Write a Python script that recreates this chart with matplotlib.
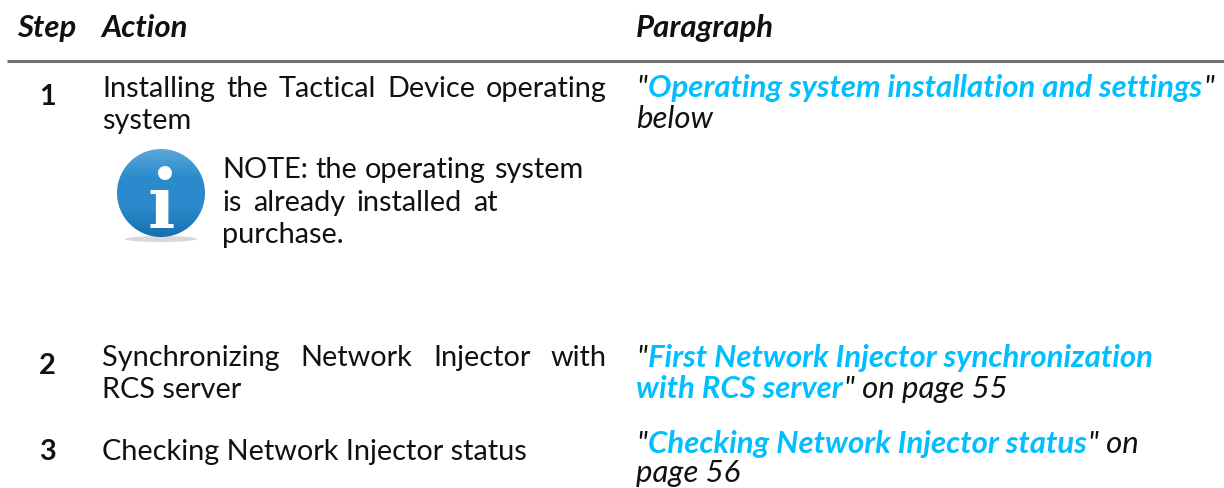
import numpy as np
import matplotlib
matplotlib.use('Agg')
import matplotlib.pyplot as plt
from matplotlib.colors import LinearSegmentedColormap
from matplotlib.patches import Circle, Ellipse

W = 1224
H = 488
FONT = 'Lato'
SIZE = 20.8
ISIZE = 22.4
BLUE = '#00bfff'
BLACK = '#111111'

headers = ['Step', 'Action', 'Paragraph']
steps = ['1', '2', '3']
action_lines = ['Installing the Tactical Device operating', 'system',
                'Synchronizing Network Injector with', 'RCS server',
                'Checking Network Injector status']
note_lines = ['NOTE: the operating system', 'is already installed at', 'purchase.']
para_1 = [[('"', BLACK), ('Operating system installation and settings', BLUE), ('"', BLACK)],
          [('below', BLACK)]]
para_2 = [[('"', BLACK), ('First Network Injector synchronization', BLUE)],
          [('with RCS server', BLUE), ('" on page 55', BLACK)]]
para_3 = [[('"', BLACK), ('Checking Network Injector status', BLUE), ('" on', BLACK)],
          [('page 56', BLACK)]]


def runs(ax, x, y, parts):
    # one line made of coloured pieces, each starts where the last one ended
    r = ax.figure.canvas.get_renderer()
    inv = ax.transData.inverted()
    for s, c in parts:
        t = ax.text(x, y, s, color=c, family=FONT, style='italic', fontsize=ISIZE,
                    weight='bold' if c == BLUE else 'normal', va='baseline')
        bb = t.get_window_extent(r)
        x = inv.transform((bb.x1, bb.y0))[0] + 1


def spread(ax, x0, x1, y, s):
    # justified line, words pushed out to the column edges
    r = ax.figure.canvas.get_renderer()
    words = s.split()
    ts = [ax.text(x0, y, w, color=BLACK, family=FONT, fontsize=SIZE, va='baseline') for w in words]
    ws = [t.get_window_extent(r).width for t in ts]
    gap = (x1 - x0 - sum(ws)) / (len(words) - 1)
    x = x0
    for t, w in zip(ts, ws):
        t.set_x(x)
        x += w + gap


fig = plt.figure(figsize=(W / 100, H / 100), dpi=100)
ax = fig.add_axes([0, 0, 1, 1])
ax.set_xlim(0, W)
ax.set_ylim(H, 0)
ax.axis('off')
fig.canvas.draw()

for s, x in zip(headers, [17, 101, 636]):
    ax.text(x, 37, s, color=BLACK, family=FONT, style='italic', weight='bold', fontsize=ISIZE, va='baseline')
ax.plot([7, W], [61, 61], color='#707070', lw=2.2, solid_capstyle='butt')

for s, y in zip(steps, [105, 374, 460]):
    ax.text(47, y, s, color=BLACK, family=FONT, weight='bold', fontsize=SIZE, ha='center', va='baseline')

spread(ax, 102, 607, 97, action_lines[0])
ax.text(102, 129, action_lines[1], color=BLACK, family=FONT, fontsize=SIZE, va='baseline')
spread(ax, 102, 607, 366, action_lines[2])
ax.text(102, 398, action_lines[3], color=BLACK, family=FONT, fontsize=SIZE, va='baseline')
ax.text(102, 460, action_lines[4], color=BLACK, family=FONT, fontsize=SIZE, va='baseline')

spread(ax, 222, 583, 178, note_lines[0])
spread(ax, 222, 498, 211, note_lines[1])
ax.text(222, 243, note_lines[2], color=BLACK, family=FONT, fontsize=SIZE, va='baseline')

# info icon: shaded disc with a white i
ax.add_patch(Ellipse((161, 239), 72, 6, color='#d8d8d8', lw=0))
grad = np.linspace(0, 1, 128).reshape(-1, 1)
im = ax.imshow(grad, extent=[117, 205, 237, 149], aspect='auto', zorder=2,
               cmap=LinearSegmentedColormap.from_list('ic', ['#5aa8dc', '#2a8acb', '#2a8acb', '#176fae']))
ax.set_xlim(0, W)
ax.set_ylim(H, 0)
im.set_clip_path(Circle((161, 193), 44, transform=ax.transData))
ax.add_patch(Circle((165, 173), 7, color='white', lw=0, zorder=3))
ax.text(161, 228, '\u0131', color='white', family='DejaVu Serif', weight='bold',
        fontsize=52, ha='center', va='baseline', zorder=3)

fig.canvas.draw()
for lines, ys in [(para_1, [97, 128]), (para_2, [367, 398]), (para_3, [453, 482])]:
    for parts, y in zip(lines, ys):
        runs(ax, 636, y, parts)

fig.savefig('out.png', dpi=100)
